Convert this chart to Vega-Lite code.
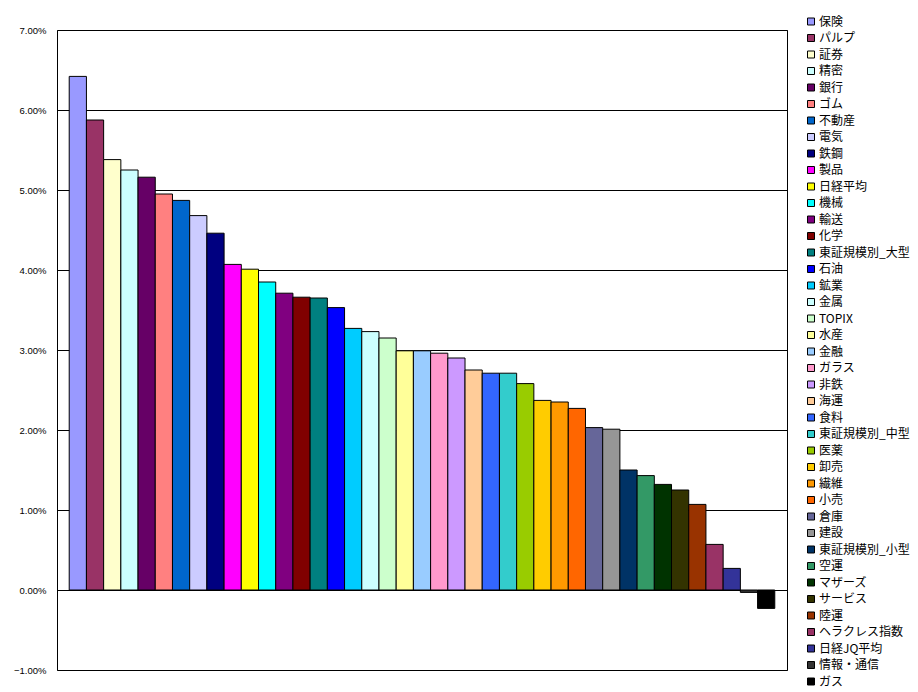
{
  "$schema": "https://vega.github.io/schema/vega-lite/v6.json",
  "width": 730,
  "height": 640,
  "autosize": {"type": "none"},
  "padding": {"left": 57, "top": 30, "right": 131, "bottom": 22},
  "background": "white",
  "config": {
    "view": {"stroke": "black", "strokeWidth": 1},
    "font": "Noto Sans CJK JP"
  },
  "data": {
    "values": [
      {"sector": "保険", "ret": 0.0642},
      {"sector": "パルプ", "ret": 0.05875},
      {"sector": "証券", "ret": 0.0538},
      {"sector": "精密", "ret": 0.0525},
      {"sector": "銀行", "ret": 0.0516},
      {"sector": "ゴム", "ret": 0.0495},
      {"sector": "不動産", "ret": 0.0487},
      {"sector": "電気", "ret": 0.0468},
      {"sector": "鉄鋼", "ret": 0.0446},
      {"sector": "製品", "ret": 0.0407},
      {"sector": "日経平均", "ret": 0.0401},
      {"sector": "機械", "ret": 0.0385},
      {"sector": "輸送", "ret": 0.0371},
      {"sector": "化学", "ret": 0.0366},
      {"sector": "東証規模別_大型", "ret": 0.0365},
      {"sector": "石油", "ret": 0.0353},
      {"sector": "鉱業", "ret": 0.0327},
      {"sector": "金属", "ret": 0.0323},
      {"sector": "TOPIX", "ret": 0.0315},
      {"sector": "水産", "ret": 0.0299},
      {"sector": "金融", "ret": 0.0299},
      {"sector": "ガラス", "ret": 0.0296},
      {"sector": "非鉄", "ret": 0.0290},
      {"sector": "海運", "ret": 0.0275},
      {"sector": "食料", "ret": 0.0271},
      {"sector": "東証規模別_中型", "ret": 0.0271},
      {"sector": "医薬", "ret": 0.0258},
      {"sector": "卸売", "ret": 0.0237},
      {"sector": "繊維", "ret": 0.0235},
      {"sector": "小売", "ret": 0.0227},
      {"sector": "倉庫", "ret": 0.0203},
      {"sector": "建設", "ret": 0.0201},
      {"sector": "東証規模別_小型", "ret": 0.0150},
      {"sector": "空運", "ret": 0.0143},
      {"sector": "マザーズ", "ret": 0.0132},
      {"sector": "サービス", "ret": 0.0125},
      {"sector": "陸運", "ret": 0.0107},
      {"sector": "ヘラクレス指数", "ret": 0.0057},
      {"sector": "日経JQ平均", "ret": 0.0027},
      {"sector": "情報・通信", "ret": -0.0003},
      {"sector": "ガス", "ret": -0.0023}
    ]
  },
  "mark": {"type": "bar", "stroke": "black", "strokeWidth": 1},
  "encoding": {
    "x": {
      "field": "sector",
      "type": "nominal",
      "sort": null,
      "scale": {"paddingInner": 0, "paddingOuter": 0.71},
      "axis": null
    },
    "y": {
      "field": "ret",
      "type": "quantitative",
      "scale": {"domain": [-0.01, 0.07], "nice": false, "zero": false},
      "axis": {
        "title": null,
        "format": ".2%",
        "values": [-0.01, 0, 0.01, 0.02, 0.03, 0.04, 0.05, 0.06, 0.07],
        "labelOverlap": false,
        "labelFlush": false,
        "grid": true,
        "gridColor": "black",
        "gridOpacity": 1,
        "gridWidth": 1,
        "domain": false,
        "ticks": false,
        "labelFontSize": 9.5,
        "labelColor": "black",
        "labelPadding": 11,
        "labelFont": "Liberation Sans"
      }
    },
    "color": {
      "field": "sector",
      "type": "nominal",
      "sort": null,
      "scale": {
        "range": ["#9999FF", "#993366", "#FFFFCC", "#CCFFFF", "#660066", "#FF8080", "#0066CC", "#CCCCFF", "#000080", "#FF00FF", "#FFFF00", "#00FFFF", "#800080", "#800000", "#008080", "#0000FF", "#00CCFF", "#CCFFFF", "#CCFFCC", "#FFFF99", "#99CCFF", "#FF99CC", "#CC99FF", "#FFCC99", "#3366FF", "#33CCCC", "#99CC00", "#FFCC00", "#FF9900", "#FF6600", "#666699", "#969696", "#003366", "#339966", "#003300", "#333300", "#993300", "#993366", "#333399", "#333333", "#000000"]
      },
      "legend": {
        "title": null,
        "orient": "none",
        "legendX": 748,
        "legendY": -14.5,
        "padding": 0,
        "symbolLimit": 0,
        "symbolType": "square",
        "symbolSize": 49,
        "symbolStrokeColor": "black",
        "symbolStrokeWidth": 1,
        "symbolOpacity": 1,
        "labelFontSize": 12,
        "labelColor": "black",
        "labelOffset": 2,
        "rowPadding": 4.5,
        "labelLimit": 200,
        "columns": 1
      }
    }
  }
}
